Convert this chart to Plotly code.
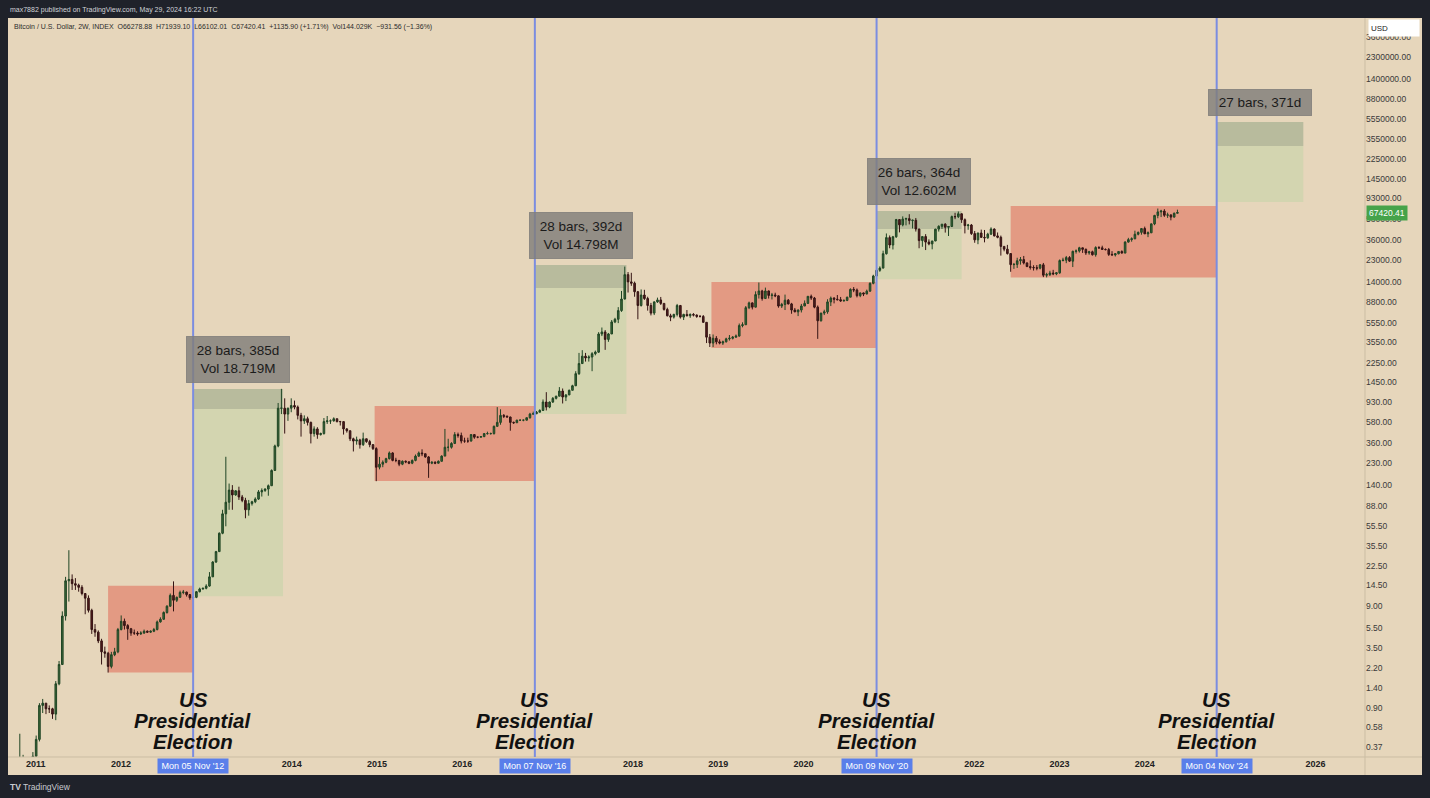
import math
import pandas as pd
import plotly.graph_objects as go

# ---- DATA -------
# Bitcoin / U.S. Dollar, 2W bars (approximate)
first_open = 0.06
close_px = [
    # 2010
    0.06, 0.10, 0.19, 0.27, 0.28, 0.21, 0.25, 0.30,
    # 2011
    0.44, 0.95, 1.00, 0.88, 0.88, 0.78, 1.55, 2.40, 7.2, 16.0, 16.5, 15.0, 14.5,
    13.8, 12.0, 10.8, 8.2, 5.3, 5.0, 4.1, 3.2, 3.1, 2.3, 3.0, 3.2, 5.3,
    # 2012
    6.4, 5.8, 5.4, 4.9, 4.9, 4.8, 4.9, 5.1, 5.0, 5.1, 5.3, 6.3, 6.7, 7.8, 9.0,
    11.5, 10.3, 11.0, 12.3, 12.4, 11.7, 10.9, 11.0, 12.5, 13.3, 13.5,
    # 2013
    14.2, 17.5, 24.5, 31.0, 47.0, 73.0, 95.0, 125, 112, 123, 107, 99, 80, 92, 96,
    102, 120, 124, 128, 138, 195, 340, 800, 800, 700, 800,
    # 2014
    850, 820, 680, 600, 630, 580, 450, 500, 440, 450, 590, 600, 600, 630, 590,
    590, 500, 480, 400, 380, 390, 350, 400, 375, 350, 320,
    # 2015
    210, 225, 235, 255, 290, 245, 245, 225, 240, 237, 230, 245, 270, 290, 285,
    265, 230, 235, 230, 240, 270, 330, 330, 360, 440, 430,
    # 2016
    380, 380, 380, 440, 415, 415, 420, 450, 450, 450, 530, 580, 680, 665, 655,
    580, 575, 610, 610, 610, 645, 700, 705, 730, 760, 920,
    # 2017
    820, 920, 1000, 1050, 1180, 1030, 1080, 1200, 1330, 1750, 2200, 2600, 2500,
    2550, 2750, 2850, 4300, 4500, 3800, 4300, 5650, 6000, 7300, 9500, 16500, 14000,
    # 2018
    13600, 11200, 8200, 10400, 9600, 8200, 6900, 8900, 9300, 8600, 7500, 6500,
    6300, 6700, 8200, 6300, 6700, 6500, 6700, 6600, 6400, 6400, 5600, 4000, 3500,
    3900, 3600,
    # 2019
    3500, 3600, 3850, 3900, 4000, 4100, 5200, 5300, 7800, 8700, 7900, 10500,
    11400, 9600, 11400, 10300, 10400, 10200, 8100, 8400, 9250, 8500, 7400, 7100,
    7400, 8100,
    # 2020
    8600, 10100, 9700, 7900, 5800, 6900, 7100, 8900, 9700, 9450, 9350, 9100,
    9200, 9900, 11800, 11650, 10250, 10900, 10650, 11350, 13550, 16000, 18200,
    19150, 26500, 38200,
    # 2021
    32300, 38900, 57500, 51000, 58100, 58700, 56200, 56600, 46400, 35700, 39100,
    34500, 33100, 35400, 46300, 49300, 51800, 48300, 49100, 61500, 61300, 65500,
    57300, 50100, 50800, 41800,
    # 2022
    36300, 42400, 38400, 38000, 41300, 46400, 39700, 38500, 31300, 29400, 26600,
    20700, 20800, 22600, 23200, 21500, 19800, 19400, 19300, 19100, 20600, 16300,
    16500, 17100, 16800, 17200,
    # 2023
    22700, 22900, 24300, 22400, 28000, 28200, 30300, 29300, 27000, 27700, 25900,
    30500, 30300, 29200, 29100, 26100, 25800, 26500, 27900, 26900, 34500, 36500,
    37200, 41200, 43000, 46900,
    # 2024
    41600, 42600, 52100, 63100, 68400, 69700, 63400, 63900, 60800, 66278.88,
    67420.41,
]
high_px = [
    # 2010
    0.065, 0.11, 0.20, 0.50, 0.31, 0.28, 0.26, 0.33,
    # 2011
    0.48, 1.00, 1.10, 1.00, 0.95, 0.90, 1.65, 2.60, 8.0, 17.5, 32.0, 18.5, 17.0,
    15.0, 14.5, 12.0, 11.5, 8.5, 6.0, 5.2, 4.3, 3.6, 3.2, 3.2, 3.5, 5.5,
    # 2012
    7.3, 6.8, 6.0, 5.5, 5.3, 5.1, 5.1, 5.3, 5.2, 5.2, 5.5, 6.5, 7.0, 8.0, 9.2,
    12.0, 15.8, 11.2, 12.8, 13.0, 12.5, 11.8, 11.2, 12.7, 13.7, 13.7,
    # 2013
    14.8, 19.5, 25.0, 31.5, 48.0, 80.0, 266, 145, 140, 125, 135, 112, 105, 100,
    98, 106, 125, 130, 130, 142, 200, 350, 900, 1240, 1000, 810,
    # 2014
    1000, 950, 850, 720, 680, 660, 590, 530, 520, 460, 640, 670, 620, 650, 630,
    600, 590, 510, 480, 410, 420, 400, 460, 400, 390, 355,
    # 2015
    330, 265, 245, 260, 300, 295, 260, 245, 245, 245, 240, 250, 280, 300, 315,
    285, 270, 240, 240, 245, 275, 500, 400, 370, 465, 460,
    # 2016
    460, 410, 410, 445, 440, 420, 425, 455, 470, 460, 540, 820, 780, 700, 680,
    660, 590, 615, 615, 615, 645, 720, 740, 750, 780, 975,
    # 2017
    1150, 930, 1030, 1060, 1290, 1250, 1100, 1220, 1360, 1850, 2800, 2980, 2800,
    2650, 2850, 2950, 4480, 4980, 4700, 4400, 5900, 6200, 7900, 11400, 19800, 17500,
    # 2018
    17200, 14100, 11400, 11800, 11700, 10000, 8700, 9000, 9800, 9950, 8600, 7800,
    6800, 6800, 8500, 8300, 6800, 7400, 6850, 6900, 6700, 6600, 6600, 5600, 4300,
    4250, 4100,
    # 2019
    3800, 3700, 3950, 4200, 4100, 4250, 5450, 5600, 8100, 8950, 8800, 11300,
    13800, 11700, 12300, 11500, 10900, 10950, 10300, 8700, 10500, 9500, 8700,
    7750, 7500, 8500,
    # 2020
    9200, 10150, 10500, 9950, 8200, 6950, 7450, 9450, 10050, 9900, 10400, 9950,
    9400, 10000, 12100, 12450, 12050, 11000, 11000, 11750, 13850, 16450, 19400,
    19900, 28400, 41950,
    # 2021
    40100, 39700, 58350, 57500, 61800, 60000, 64900, 57500, 59600, 46600, 39500,
    41300, 36700, 35400, 46600, 50500, 51900, 52900, 49200, 62900, 67000, 69000,
    66300, 59000, 52100, 52000,
    # 2022
    44400, 42600, 45800, 45400, 42600, 48200, 47100, 42900, 40000, 31300, 32400,
    26800, 21500, 24200, 24600, 25200, 21800, 22800, 20400, 20500, 21000, 21500,
    17200, 18000, 18400, 17400,
    # 2023
    23300, 24200, 25200, 25100, 28400, 29200, 31000, 30400, 29800, 28300, 28400,
    31400, 31500, 31800, 29900, 30200, 28100, 26900, 28000, 28600, 35200, 38000,
    38400, 44700, 43800, 47000,
    # 2024
    49000, 43900, 52800, 64000, 73800, 71700, 72700, 67200, 64700, 67400,
    71939.10,
]
low_px = [
    # 2010
    0.055, 0.06, 0.10, 0.19, 0.22, 0.18, 0.20, 0.24,
    # 2011
    0.29, 0.42, 0.80, 0.78, 0.80, 0.70, 0.68, 1.50, 2.4, 6.5, 10.0, 13.0, 13.0,
    12.5, 11.5, 7.5, 7.8, 4.8, 4.5, 3.9, 2.4, 2.8, 2.0, 2.2, 2.9, 3.1,
    # 2012
    5.2, 5.3, 4.2, 4.6, 4.7, 4.6, 4.7, 4.8, 4.9, 4.9, 5.0, 5.2, 6.2, 6.6, 7.6,
    8.9, 8.0, 9.9, 10.9, 11.8, 11.2, 10.4, 10.6, 10.8, 12.3, 13.1,
    # 2013
    13.2, 14.0, 17.5, 24.0, 31.0, 46.0, 55.0, 80, 80, 110, 100, 95, 66, 70, 88,
    93, 100, 108, 120, 110, 138, 195, 330, 700, 450, 600,
    # 2014
    730, 780, 620, 420, 560, 540, 360, 420, 400, 430, 440, 560, 560, 590, 580,
    540, 440, 460, 380, 300, 350, 320, 340, 365, 330, 310,
    # 2015
    153, 200, 210, 230, 250, 240, 235, 215, 220, 230, 225, 225, 240, 265, 270,
    260, 165, 225, 225, 228, 240, 270, 300, 320, 355, 410,
    # 2016
    360, 365, 365, 375, 400, 405, 410, 415, 440, 440, 440, 530, 550, 640, 650,
    480, 560, 575, 600, 595, 605, 630, 690, 700, 730, 750,
    # 2017
    760, 800, 900, 975, 1050, 890, 940, 1080, 1200, 1320, 1700, 2200, 2300,
    2300, 1850, 2650, 2800, 4100, 3000, 3600, 4300, 5500, 5500, 7100, 9400, 11000,
    # 2018
    12800, 10000, 6000, 8000, 9300, 7300, 6550, 6600, 8700, 8300, 7300, 6400,
    5750, 6100, 6400, 6100, 5900, 6400, 6200, 6400, 6200, 6250, 5550, 3500, 3200,
    3200, 3400,
    # 2019
    3400, 3350, 3550, 3700, 3800, 3950, 4050, 5000, 5300, 7550, 7500, 7850,
    9600, 9150, 9500, 9600, 9400, 9900, 7800, 7750, 7400, 8400, 6800, 7050,
    6450, 7000,
    # 2020
    8100, 8550, 9300, 7700, 3850, 5700, 6600, 6800, 8100, 8600, 9200, 8900,
    8950, 9050, 9900, 11100, 9850, 9900, 10150, 10550, 11200, 13250, 15900,
    17600, 19000, 26000,
    # 2021
    30000, 29200, 38000, 43000, 49300, 50400, 51500, 47000, 43800, 30000, 31000,
    28800, 32100, 29300, 35200, 43800, 46500, 42800, 39600, 49000, 58000, 59500,
    53300, 42000, 45600, 40600,
    # 2022
    34000, 32900, 38000, 34300, 37200, 40500, 39200, 37600, 25400, 28000, 26000,
    17600, 18800, 19200, 20700, 20800, 19600, 18500, 18100, 18200, 18600, 15600,
    15500, 16000, 16300, 16300,
    # 2023
    16800, 22300, 21400, 22000, 19600, 26600, 27200, 27000, 25800, 25900, 25400,
    24800, 29500, 29000, 28600, 25200, 25400, 24900, 26100, 26600, 26800, 34100,
    34800, 36800, 40200, 40800,
    # 2024
    41500, 38600, 42300, 50600, 59200, 60800, 61100, 59700, 56500, 60200,
    66102.01,
]

# election markers and the drawings around them
election_dates = ['2012-11-05', '2016-11-07', '2020-11-09', '2024-11-04']
election_tags = ["Mon 05 Nov '12", "Mon 07 Nov '16", "Mon 09 Nov '20", "Mon 04 Nov '24"]
red_start = ['2011-11-07', '2014-12-22', '2018-12-03', '2022-06-06']
red_low = [2.0, 154, 3130, 15500]
red_high = [14.3, 840, 13950, 78000]
range_bars = [28, 28, 26, 27]
range_days = [385, 392, 364, 371]
range_vol = ['18.719M', '14.798M', '12.602M', None]
green_low = [11.3, 700, 14900, 85600]
green_mid = [785, 12200, 46400, 304000]
green_high = [1236, 20500, 69800, 525000]

price_ticks = [0.37, 0.58, 0.9, 1.4, 2.2, 3.5, 5.5, 9, 14.5, 22.5, 35.5, 55.5, 88,
               140, 230, 360, 580, 930, 1450, 2250, 3550, 5550, 8800, 14000, 23000,
               36000, 58000, 93000, 145000, 225000, 355000, 555000, 880000,
               1400000, 2300000, 3600000]
year_ticks = [2011, 2012, 2014, 2015, 2016, 2018, 2019, 2020, 2022, 2023, 2024, 2026]

header = "max7882 published on TradingView.com, May 29, 2024 16:22 UTC"
legend_line = ("Bitcoin / U.S. Dollar, 2W, INDEX  O66278.88  H71939.10  L66102.01  "
               "C67420.41  +1135.90 (+1.71%)  Vol144.029K  \u2212931.56 (\u22121.36%)")
last_price = 67420.41

# ---- STYLE -------
BEIGE = '#e6d6bb'
FRAME = '#1f222a'
RED_BOX = '#e39a83'
GREEN_BOX = '#d3d5b0'
GREEN_BAND = '#b8bb9d'
LINE_BLUE = '#7b8de0'
TAG_BLUE = '#5a7fea'
FONT = 'Liberation Sans'


def px_x(p):
    return (p - 10) / 1355


def px_y(p):
    return (757 - p) / 737


def main():
    dates = pd.date_range('2010-09-13', periods=len(close_px), freq='14D')
    open_px = [first_open] + close_px[:-1]
    hi = [max(h, o, c) for h, o, c in zip(high_px, open_px, close_px)]
    lo = [min(l, o, c) for l, o, c in zip(low_px, open_px, close_px)]

    fig = go.Figure()
    fig.add_trace(go.Candlestick(
        x=dates, open=open_px, high=hi, low=lo, close=close_px,
        increasing=dict(line=dict(color='#1f4524', width=1), fillcolor='#3d6838'),
        decreasing=dict(line=dict(color='#351414', width=1), fillcolor='#521c1c'),
        whiskerwidth=0, hoverinfo='skip'))

    shapes = []
    annotations = []

    # dark frame around the chart panel
    for x0, x1, y0, y1 in [(-1, 2, px_y(18), 2), (-1, 2, -1, px_y(775)),
                           (-1, px_x(8), -1, 2), (px_x(1422), 2, -1, 2)]:
        shapes.append(dict(type='rect', xref='paper', yref='paper', x0=x0, x1=x1,
                           y0=y0, y1=y1, fillcolor=FRAME, line_width=0, layer='below'))
    # axis separators
    shapes.append(dict(type='line', xref='paper', yref='paper', x0=px_x(8), x1=px_x(1422),
                       y0=0, y1=0, line=dict(color='#cbbda3', width=1)))
    shapes.append(dict(type='line', xref='paper', yref='paper', x0=1, x1=1,
                       y0=px_y(775), y1=px_y(18), line=dict(color='#cbbda3', width=1)))

    for i, ed in enumerate(election_dates):
        start = pd.Timestamp(ed)
        end = start + pd.Timedelta(days=range_days[i])
        mid = start + pd.Timedelta(days=range_days[i] / 2)

        shapes.append(dict(type='rect', xref='x', yref='y', x0=red_start[i], x1=start,
                           y0=red_low[i], y1=red_high[i], fillcolor=RED_BOX,
                           line_width=0, layer='below'))
        shapes.append(dict(type='rect', xref='x', yref='y', x0=start, x1=end,
                           y0=green_low[i], y1=green_mid[i], fillcolor=GREEN_BOX,
                           line_width=0, layer='below'))
        shapes.append(dict(type='rect', xref='x', yref='y', x0=start, x1=end,
                           y0=green_mid[i], y1=green_high[i], fillcolor=GREEN_BAND,
                           line_width=0, layer='below'))
        shapes.append(dict(type='line', xref='x', yref='paper', x0=start, x1=start,
                           y0=0, y1=px_y(18), line=dict(color=LINE_BLUE, width=2)))

        text = f"{range_bars[i]} bars, {range_days[i]}d"
        height = 17
        if range_vol[i]:
            text += f"<br>Vol {range_vol[i]}"
            height = 37
        annotations.append(dict(
            x=mid, y=math.log10(green_high[i]), xref='x', yref='y',
            text=text, showarrow=False, yanchor='bottom', yshift=6,
            width=94, height=height, borderpad=4,
            bgcolor='rgba(128,126,122,0.82)', bordercolor='rgba(128,126,122,0.82)',
            font=dict(family=FONT, size=13.5, color='#1b1b1b')))

        for line_txt, yy in [('US', 699), ('Presidential', 720), ('Election', 741)]:
            annotations.append(dict(
                x=start, y=px_y(yy), xref='x', yref='paper', text=f"<b><i>{line_txt}</i></b>",
                showarrow=False, yanchor='middle',
                font=dict(family=FONT, size=20.5, color='#111111')))

        annotations.append(dict(
            x=start, y=px_y(766), xref='x', yref='paper', text=election_tags[i],
            showarrow=False, yanchor='middle', bgcolor=TAG_BLUE, borderpad=2,
            width=66, font=dict(family=FONT, size=9, color='white')))

    # texts around the panel
    annotations.append(dict(x=px_x(8), y=px_y(10), xref='paper', yref='paper', text=header,
                            showarrow=False, xanchor='left', yanchor='middle',
                            font=dict(family=FONT, size=7, color='#d0d2d8')))
    annotations.append(dict(x=px_x(12), y=px_y(27), xref='paper', yref='paper',
                            text=legend_line, showarrow=False, xanchor='left',
                            yanchor='middle', font=dict(family=FONT, size=7, color='#2c2c2c')))
    annotations.append(dict(x=px_x(8), y=px_y(787), xref='paper', yref='paper',
                            text="<b>TV</b> TradingView", showarrow=False, xanchor='left',
                            yanchor='middle', font=dict(family=FONT, size=8.5, color='#c9cbd1')))
    annotations.append(dict(x=px_x(1368), y=px_y(27.5), xref='paper', yref='paper',
                            text="USD", showarrow=False, xanchor='left', yanchor='middle',
                            align='left', width=46, height=12, borderpad=2, bgcolor='white',
                            font=dict(family=FONT, size=8, color='#222222')))
    annotations.append(dict(x=px_x(1366), y=math.log10(last_price), xref='paper', yref='y',
                            text=f"{last_price:.2f}", showarrow=False, xanchor='left',
                            yanchor='middle', bgcolor='#46a34a', borderpad=2,
                            font=dict(family=FONT, size=8.5, color='white')))

    fig.update_layout(
        width=1430, height=798,
        margin=dict(l=10, r=65, t=20, b=41),
        paper_bgcolor=BEIGE, plot_bgcolor=BEIGE,
        showlegend=False,
        shapes=shapes, annotations=annotations,
        xaxis=dict(type='date', range=['2010-09-13', '2026-08-01'],
                   rangeslider=dict(visible=False), showgrid=False, zeroline=False,
                   showline=False, ticks='',
                   tickvals=[f"{y}-01-01" for y in year_ticks],
                   ticktext=[str(y) for y in year_ticks],
                   tickfont=dict(family=FONT, size=9, color='#222222', weight='bold')),
        yaxis=dict(type='log', side='right', range=[-0.530, 6.7237],
                   showgrid=False, zeroline=False, showline=False, ticks='',
                   tickvals=price_ticks, ticktext=[f"{v:.2f}" for v in price_ticks],
                   tickfont=dict(family=FONT, size=8.5, color='#3a3a3a')),
    )

    # page has a default 8px body margin; drop it so the figure sits at the corner
    fig.write_html("out.html", config={'displayModeBar': False},
                   post_script="document.body.style.margin='0';"
                               "document.body.style.background='#1f222a';")


main()
